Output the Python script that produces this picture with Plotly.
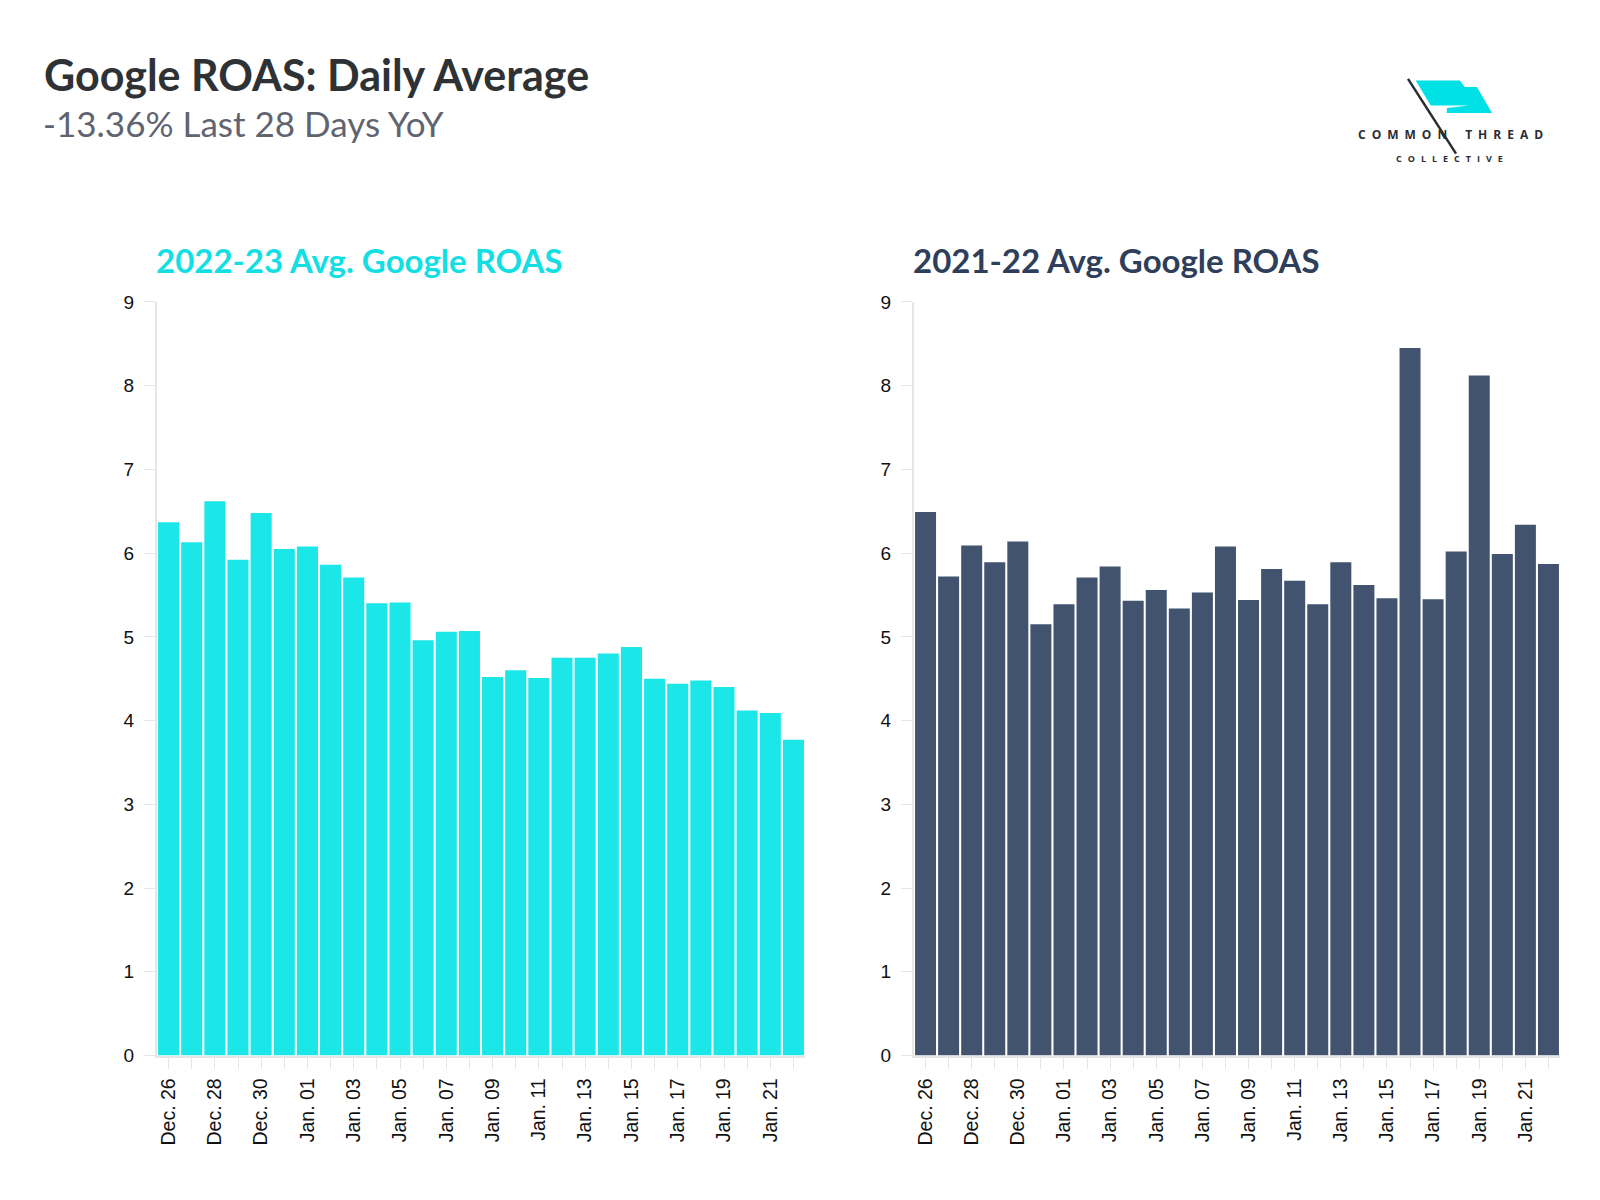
import plotly.graph_objects as go

dates = ["Dec. 26", "Dec. 27", "Dec. 28", "Dec. 29", "Dec. 30", "Dec. 31",
         "Jan. 01", "Jan. 02", "Jan. 03", "Jan. 04", "Jan. 05", "Jan. 06",
         "Jan. 07", "Jan. 08", "Jan. 09", "Jan. 10", "Jan. 11", "Jan. 12",
         "Jan. 13", "Jan. 14", "Jan. 15", "Jan. 16", "Jan. 17", "Jan. 18",
         "Jan. 19", "Jan. 20", "Jan. 21", "Jan. 22"]

roas_2022_23 = [6.37, 6.13, 6.62, 5.92, 6.48, 6.05, 6.08, 5.86, 5.71, 5.40,
                5.41, 4.96, 5.06, 5.07, 4.52, 4.60, 4.51, 4.75, 4.75, 4.80,
                4.88, 4.50, 4.44, 4.48, 4.40, 4.12, 4.09, 3.77]

roas_2021_22 = [6.49, 5.72, 6.09, 5.89, 6.14, 5.15, 5.39, 5.71, 5.84, 5.43,
                5.56, 5.34, 5.53, 6.08, 5.44, 5.81, 5.67, 5.39, 5.89, 5.62,
                5.46, 8.45, 5.45, 6.02, 8.12, 5.99, 6.34, 5.87]

y_ticks = [0, 1, 2, 3, 4, 5, 6, 7, 8, 9]
x_tick_text = [d if i % 2 == 0 else "" for i, d in enumerate(dates)]

CYAN = "#1BE6E8"
CYAN_TITLE = "#12DEE4"
NAVY = "#41536F"
NAVY_TITLE = "#2E3E5B"
AXIS_GRAY = "#E6E6E6"

fig = go.Figure()
fig.add_trace(go.Bar(x=dates, y=roas_2022_23,
                     marker=dict(color=CYAN, line=dict(width=0)),
                     xaxis="x", yaxis="y", showlegend=False))
fig.add_trace(go.Bar(x=dates, y=roas_2021_22,
                     marker=dict(color=NAVY, line=dict(width=0)),
                     xaxis="x2", yaxis="y2", showlegend=False))

W, H = 1600, 1200
def fx(px):
    return px / W
def fy(py):
    return 1 - py / H

xcommon = dict(
    type="category", tickmode="array", tickvals=dates, ticktext=x_tick_text,
    tickangle=-90, ticks="outside", ticklen=11, tickwidth=1, tickcolor=AXIS_GRAY,
    showline=True, linecolor=AXIS_GRAY, linewidth=2, showgrid=False, zeroline=False,
    tickfont=dict(family="Liberation Sans, Arial", size=19.5, color="#111111"),
    ticklabelstandoff=2, range=[-0.5, 27.5], fixedrange=True,
)
ycommon = dict(
    range=[0, 9], tickmode="array", tickvals=y_ticks, ticks="outside", ticklen=11,
    tickwidth=1, tickcolor=AXIS_GRAY, showline=True, linecolor=AXIS_GRAY, linewidth=2,
    showgrid=False, zeroline=False, ticklabelstandoff=6,
    tickfont=dict(family="Liberation Sans, Arial", size=19, color="#111111"),
)

PLOT_TOP, PLOT_BOTTOM = 289, 1056
fig.update_layout(
    width=W, height=H, paper_bgcolor="white", plot_bgcolor="white",
    margin=dict(l=0, r=0, t=0, b=0), bargap=0.09,
    xaxis=dict(domain=[fx(149), fx(797)], anchor="y", **xcommon),
    yaxis=dict(domain=[fy(PLOT_BOTTOM), fy(PLOT_TOP)], anchor="x", **ycommon),
    xaxis2=dict(domain=[fx(906), fx(1552)], anchor="y2", **xcommon),
    yaxis2=dict(domain=[fy(PLOT_BOTTOM), fy(PLOT_TOP)], anchor="x2", **ycommon),
)

EN = "\u2002"
TH = "\u2009"
logo_top = EN.join("COMMON") + "\u2003" + EN + EN.join("THREAD")
logo_bot = (EN + TH).join("COLLECTIVE")

annotations = [
    dict(text="<b>Google ROAS: Daily Average</b>", x=fx(34), y=fy(58), xref="paper", yref="paper",
         xanchor="left", yanchor="middle", showarrow=False,
         font=dict(family="Lato", size=43, color="#2F3235")),
    dict(text="-13.36% Last 28 Days YoY", x=fx(33), y=fy(107), xref="paper", yref="paper",
         xanchor="left", yanchor="middle", showarrow=False,
         font=dict(family="Lato", size=35, color="#5F6470")),
    dict(text="<b>2022-23 Avg. Google ROAS</b>", x=fx(146), y=fy(246), xref="paper", yref="paper",
         xanchor="left", yanchor="middle", showarrow=False,
         font=dict(family="Lato", size=33, color=CYAN_TITLE)),
    dict(text="<b>2021-22 Avg. Google ROAS</b>", x=fx(903), y=fy(246), xref="paper", yref="paper",
         xanchor="left", yanchor="middle", showarrow=False,
         font=dict(family="Lato", size=33, color=NAVY_TITLE)),
    dict(text="<b>" + logo_top + "</b>", x=fx(1442), y=fy(119), xref="paper", yref="paper",
         xanchor="center", yanchor="middle", showarrow=False,
         font=dict(family="Open Sans", size=12, color="#2A2D33")),
    dict(text="<b>" + logo_bot + "</b>", x=fx(1441), y=fy(143), xref="paper", yref="paper",
         xanchor="center", yanchor="middle", showarrow=False,
         font=dict(family="Open Sans", size=9, color="#2A2D33")),
]
fig.update_layout(annotations=annotations)

# logo shapes (flag + needle)
flag_pts = [(1407.7, 63.7), (1452, 63.7), (1456.7, 70.3), (1469, 70.3), (1484, 96.7),
            (1438.7, 96.7), (1439, 91.7), (1461, 89), (1422.7, 89)]
path = "M " + " L ".join(f"{fx(x)},{fy(y)}" for x, y in flag_pts) + " Z"
fig.add_shape(type="path", path=path, xref="paper", yref="paper",
              fillcolor="#00E1E6", line=dict(width=0))
fig.add_shape(type="line", x0=fx(1400), y0=fy(62), x1=fx(1448), y1=fy(138),
              xref="paper", yref="paper", line=dict(color="#2A2D33", width=2.5))

fig.write_html("out.html")
